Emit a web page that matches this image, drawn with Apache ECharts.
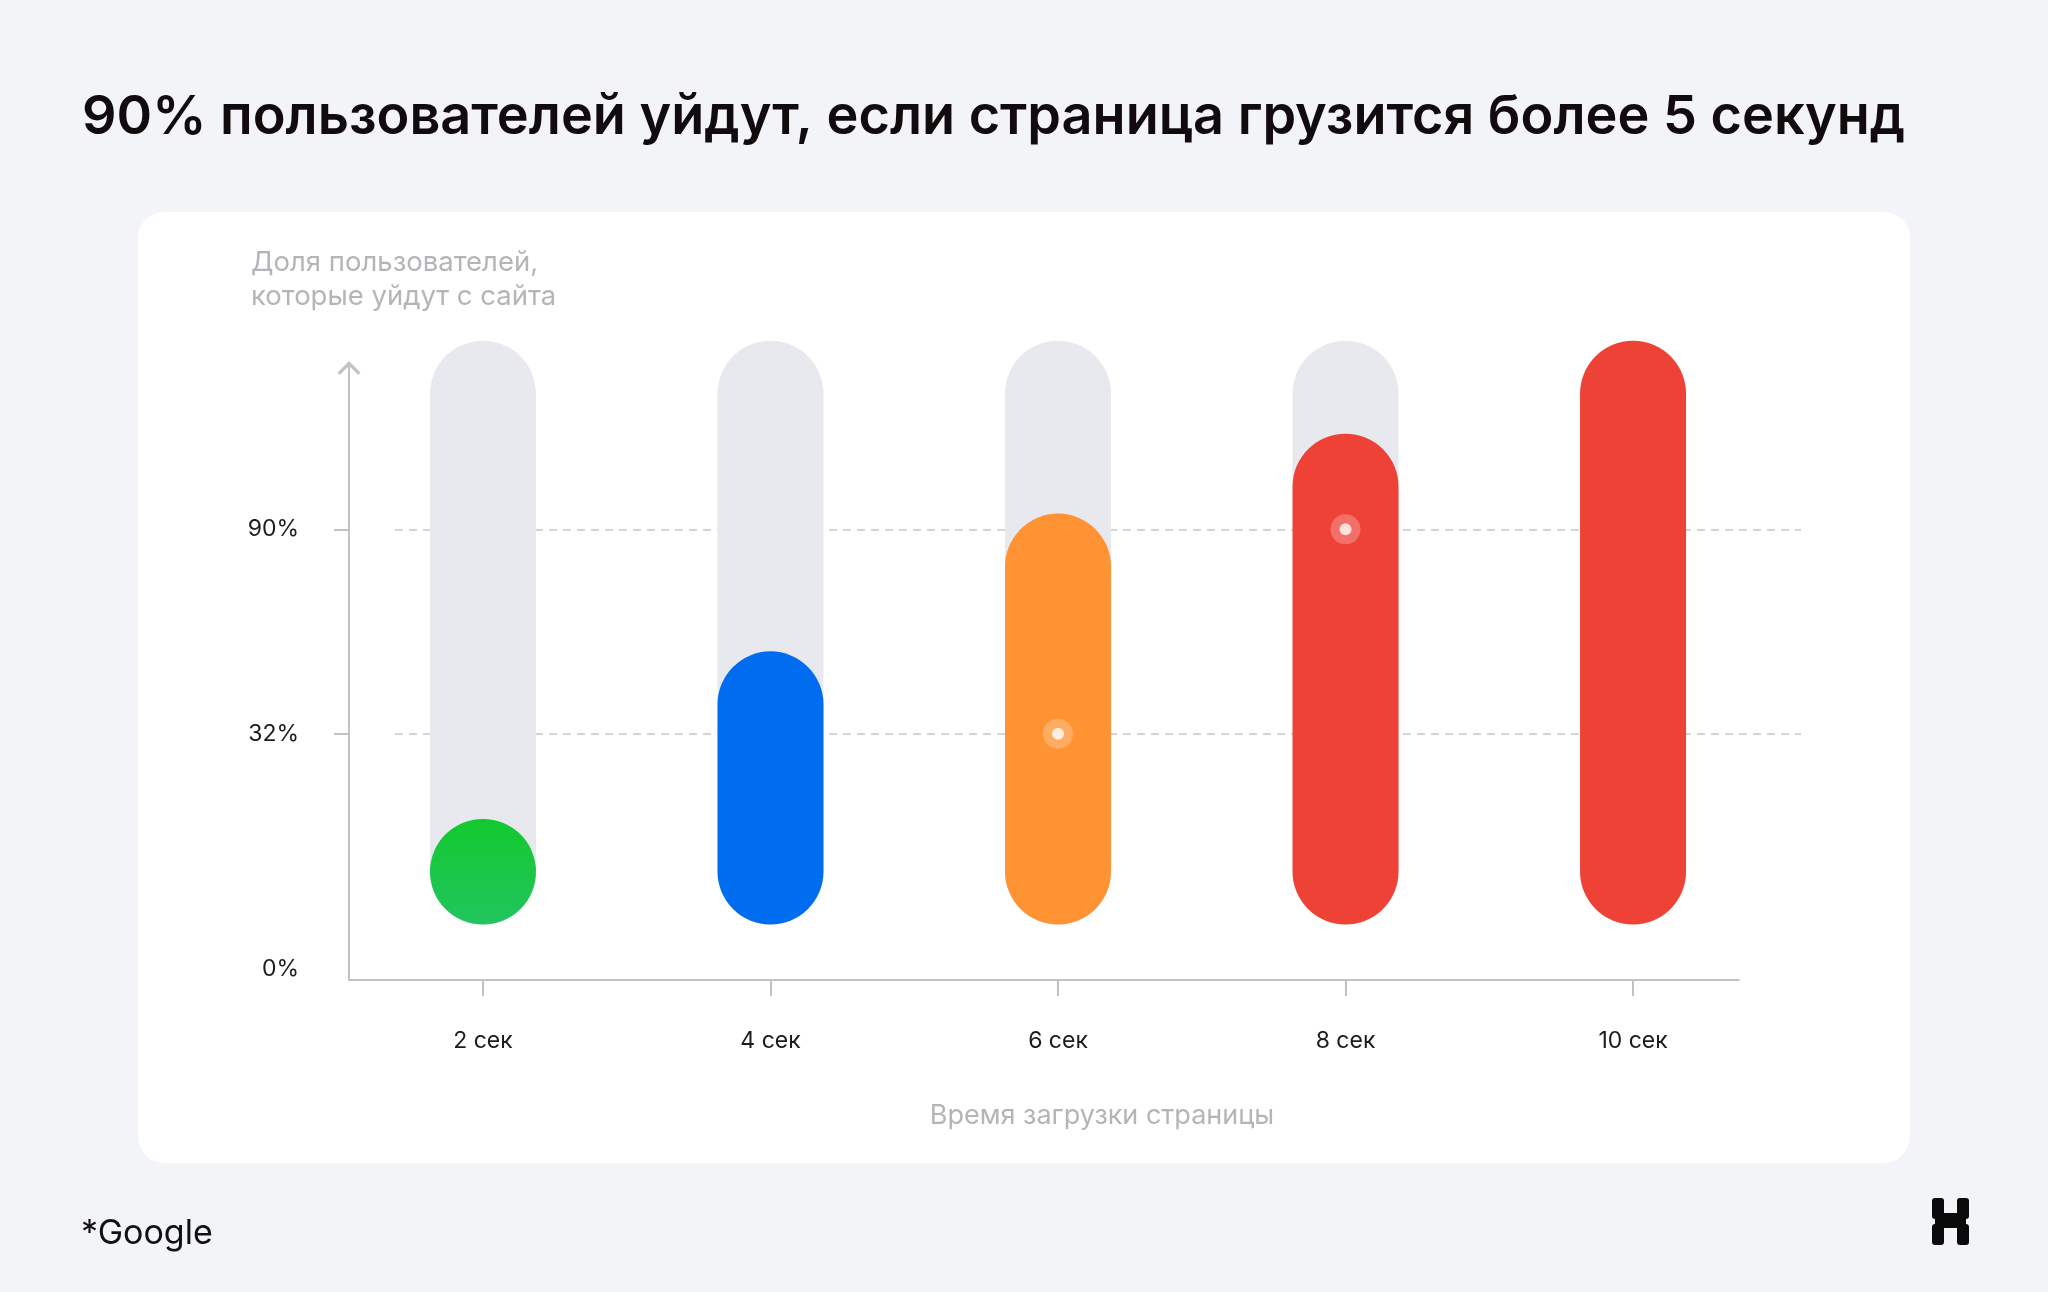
<!DOCTYPE html>
<html>
<head>
    <meta charset="utf-8">
    <title>ECharts</title>
    <script src="https://cdn.jsdelivr.net/npm/echarts@6/dist/echarts.min.js"></script>
    <style>
        html, body { margin: 0; padding: 0; background: #f3f4f8; }
        #main { width: 2048px; height: 1292px; }
    </style>
</head>
<body>
    <div id="main"></div>
    <script type="text/javascript">
        // данные
        var seconds = [2, 4, 6, 8, 10];
        var secLabels = ['2 сек', '4 сек', '6 сек', '8 сек', '10 сек'];
        var barLevels = [18.1, 46.8, 70.4, 84.1, 100];
        var trackLevels = [100, 100, 100, 100, 100];
        var yTickValues = [-7.6, 32.7, 67.7];
        var yTickLabels = ['0%', '32%', '90%'];
        var guideLevels = [32.7, 67.7];
        var dotPoints = [[6, 32.7], [8, 67.7]];

        var barColors = [
            new echarts.graphic.LinearGradient(0, 0, 0, 1, [
                { offset: 0, color: '#13c92f' },
                { offset: 1, color: '#21c55e' }
            ]),
            '#006cf0', '#ff9232', '#ee4237', '#ee4237'
        ];

        var myChart = echarts.init(document.getElementById('main'));

        var font = 'Inter, "Noto Sans", sans-serif';
        var yMin = -9.5, yMax = 96.2;

        var option = {
            backgroundColor: '#f3f4f8',
            animation: false,
            textStyle: { fontFamily: font },
            grid: [
                { left: 349, right: 309, top: 363, bottom: 312 },   // основная
                { left: 395, right: 247, top: 363, bottom: 312 }    // для пунктира
            ],
            xAxis: [
                {
                    type: 'value',
                    gridIndex: 0,
                    min: 1.068,
                    max: 10.737,
                    splitLine: { show: false },
                    axisLine: { show: true, onZero: false, lineStyle: { color: '#c2c2c2', width: 2 } },
                    axisTick: {
                        show: true,
                        customValues: seconds,
                        length: 16,
                        lineStyle: { color: '#c2c2c2', width: 2 }
                    },
                    axisLabel: {
                        customValues: seconds,
                        margin: 50,
                        color: '#1c1c1c',
                        fontSize: 23,
                        fontFamily: font,
                        formatter: function (v) {
                            return secLabels[seconds.indexOf(v)];
                        }
                    }
                },
                { type: 'value', gridIndex: 1, min: 0, max: 1, show: false }
            ],
            yAxis: [
                {
                    type: 'value',
                    gridIndex: 0,
                    min: yMin,
                    max: yMax,
                    splitLine: { show: false },
                    axisLine: {
                        show: true,
                        onZero: false,
                        symbol: ['none', 'path://M10,0 L20,10 L18,12 L10,4 L2,12 L0,10 Z'],
                        symbolSize: [23, 14],
                        symbolOffset: [0, -5],
                        lineStyle: { color: '#c2c2c2', width: 2 }
                    },
                    axisTick: {
                        show: true,
                        customValues: guideLevels,
                        length: 15,
                        lineStyle: { color: '#c2c2c2', width: 2 }
                    },
                    axisLabel: {
                        customValues: yTickValues,
                        margin: 50,
                        color: '#1c1c1c',
                        fontSize: 23,
                        fontFamily: font,
                        formatter: function (v) {
                            return yTickLabels[yTickValues.indexOf(v)];
                        }
                    }
                },
                { type: 'value', gridIndex: 1, min: yMin, max: yMax, show: false }
            ],
            graphic: [
                {
                    type: 'rect', z: -10,
                    shape: { x: 138, y: 212, width: 1772, height: 951, r: 26 },
                    style: { fill: '#ffffff' }
                },
                {
                    type: 'text', left: 82, top: 91,
                    style: {
                        text: '90% пользователей уйдут, если страница грузится более 5 секунд',
                        font: '600 54px ' + font, fill: '#120b0d'
                    }
                },
                {
                    type: 'text', left: 251, top: 246,
                    style: {
                        text: 'Доля пользователей,\nкоторые уйдут с сайта',
                        font: '400 27.5px ' + font, fill: '#b5b5b9', lineHeight: 34
                    }
                },
                {
                    type: 'text', x: 1102, y: 1116,
                    style: {
                        text: 'Время загрузки страницы',
                        font: '400 27px ' + font, fill: '#b5b5b9',
                        align: 'center', verticalAlign: 'middle'
                    }
                },
                {
                    type: 'text', left: 81, top: 1217,
                    style: { text: '*Google', font: '400 34px ' + font, fill: '#111111' }
                },
                {
                    type: 'group',
                    children: [
                        { type: 'rect', shape: { x: 1932, y: 1198, width: 12, height: 21, r: 3 }, style: { fill: '#0b0b0b' } },
                        { type: 'rect', shape: { x: 1932, y: 1224, width: 12, height: 21, r: 3 }, style: { fill: '#0b0b0b' } },
                        { type: 'rect', shape: { x: 1957, y: 1198, width: 12, height: 21, r: 3 }, style: { fill: '#0b0b0b' } },
                        { type: 'rect', shape: { x: 1957, y: 1224, width: 12, height: 21, r: 3 }, style: { fill: '#0b0b0b' } },
                        { type: 'rect', shape: { x: 1935, y: 1213, width: 31, height: 15, r: 2 }, style: { fill: '#0b0b0b' } }
                    ]
                }
            ],
            series: [
                {
                    name: 'guides',
                    type: 'line',
                    xAxisIndex: 1,
                    yAxisIndex: 1,
                    data: [],
                    z: 1,
                    silent: true,
                    markLine: {
                        silent: true,
                        z: 1,
                        symbol: 'none',
                        label: { show: false },
                        lineStyle: { color: '#d3d5d9', width: 2, type: [8, 6] },
                        data: guideLevels.map(function (v) { return { yAxis: v }; })
                    }
                },
                {
                    name: 'track',
                    type: 'bar',
                    barWidth: 106,
                    barGap: '-100%',
                    clip: false,
                    z: 2,
                    itemStyle: { color: '#e8e9ee', borderRadius: 53 },
                    data: seconds.map(function (s, i) { return [s, trackLevels[i]]; })
                },
                {
                    name: 'share',
                    type: 'bar',
                    barWidth: 106,
                    barGap: '-100%',
                    clip: false,
                    z: 3,
                    data: seconds.map(function (s, i) {
                        return {
                            value: [s, barLevels[i]],
                            itemStyle: { color: barColors[i], borderRadius: 53 }
                        };
                    })
                },
                {
                    name: 'halo',
                    type: 'scatter',
                    z: 4,
                    symbolSize: 30,
                    itemStyle: { color: 'rgba(255,255,255,0.3)' },
                    data: dotPoints
                },
                {
                    name: 'dot',
                    type: 'scatter',
                    z: 5,
                    symbolSize: 12,
                    itemStyle: { color: '#ffffff' },
                    data: dotPoints
                }
            ]
        };

        myChart.setOption(option);
    </script>
</body>
</html>
